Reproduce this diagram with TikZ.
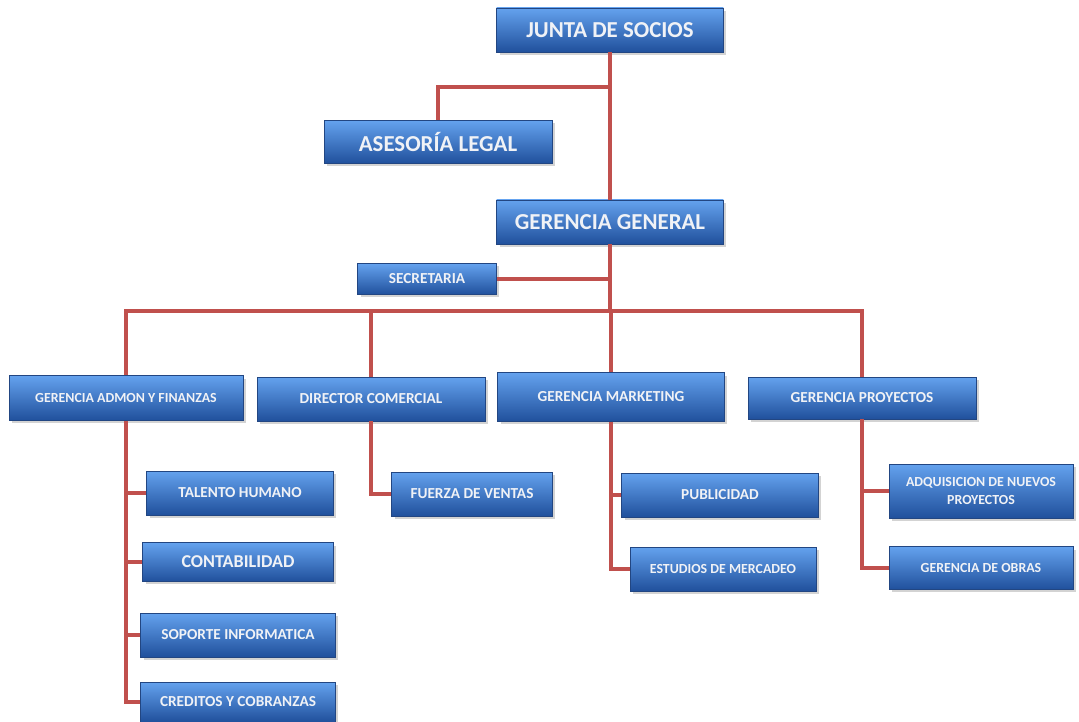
\documentclass[tikz,border=0pt]{standalone}
\usepackage{fontspec}
\setmainfont{Carlito}
\usetikzlibrary{positioning,shadows}

\definecolor{boxtop}{RGB}{100,162,238}
\definecolor{boxmid}{RGB}{50,118,214}
\definecolor{boxbot}{RGB}{32,80,156}
\definecolor{boxline}{RGB}{34,70,130}
\definecolor{boxtext}{RGB}{240,242,246}
\definecolor{linkred}{RGB}{192,80,77}

\begin{document}
\begin{tikzpicture}[x=0.02cm, y=-0.02cm,
    orgbox/.style={draw=boxline, line width=0.4pt, top color=boxtop, middle color=boxmid, bottom color=boxbot,
      drop shadow={opacity=0.35, shadow xshift=0.6mm, shadow yshift=-0.6mm},
      text=boxtext, align=center, inner sep=1pt, font=\bfseries},
    big/.style={font=\fontsize{13}{15}\selectfont\bfseries},
    mid/.style={font=\fontsize{8.7}{10.5}\selectfont\bfseries},
    small/.style={font=\fontsize{7.9}{9.8}\selectfont\bfseries},
    link/.style={draw=linkred, line width=2.1pt}]
      \useasboundingbox (0,0) rectangle (1079,722);

      \node[orgbox, big, minimum width=4.54cm, minimum height=0.88cm] (junta) at (610,30) {JUNTA DE SOCIOS};
      \node[orgbox, big, minimum width=4.56cm, minimum height=0.86cm] (ases) at (438,142) {ASESORÍA LEGAL};
      \node[orgbox, big, minimum width=4.54cm, minimum height=0.88cm] (gergen) at (610,222) {GERENCIA GENERAL};
      \node[orgbox, mid, minimum width=2.78cm, minimum height=0.62cm] (secre) at (427,279) {SECRETARIA};

      \node[orgbox, small, minimum width=4.68cm, minimum height=0.9cm] (admon) at (126,398) {GERENCIA ADMON Y FINANZAS};
      \node[orgbox, mid, minimum width=4.56cm, minimum height=0.88cm] (dc) at (371,399) {DIRECTOR COMERCIAL};
      \node[orgbox, mid, minimum width=4.54cm, minimum height=0.98cm] (mkt) at (611,397) {GERENCIA MARKETING};
      \node[orgbox, mid, minimum width=4.56cm, minimum height=0.84cm] (proy) at (862,398) {GERENCIA PROYECTOS};

      \node[orgbox, mid, minimum width=3.74cm, minimum height=0.88cm] (talento) at (240,493) {TALENTO HUMANO};
      \node[orgbox, font=\fontsize{10.3}{12}\selectfont\bfseries, minimum width=3.82cm, minimum height=0.78cm] (conta) at (238,562) {CONTABILIDAD};
      \node[orgbox, mid, minimum width=3.9cm, minimum height=0.88cm] (soporte) at (238,635) {SOPORTE INFORMATICA};
      \node[orgbox, mid, minimum width=3.9cm, minimum height=0.8cm] (credit) at (238,702) {CREDITOS Y COBRANZAS};

      \node[orgbox, mid, minimum width=3.22cm, minimum height=0.88cm] (fuerza) at (472,494) {FUERZA DE VENTAS};

      \node[orgbox, mid, minimum width=3.94cm, minimum height=0.88cm] (public) at (720,495) {PUBLICIDAD};
      \node[orgbox, small, minimum width=3.72cm, minimum height=0.88cm] (estud) at (723,569) {ESTUDIOS DE MERCADEO};

      \node[orgbox, small, minimum width=3.68cm, minimum height=1.08cm] (adqui) at (981,491) {ADQUISICION DE NUEVOS\\PROYECTOS};
      \node[orgbox, small, minimum width=3.68cm, minimum height=0.86cm] (obras) at (981,568) {GERENCIA DE OBRAS};

      \coordinate (asesj) at (610,87);
      \coordinate (bus) at (610,311);

      \draw[link] (junta.south) -- (gergen.north);
      \draw[link] (ases.north) |- (asesj);
      \draw[link] (gergen.south) -- (bus);
      \draw[link] (secre.east) -- (secre.east -| gergen.south);
      \draw[link] (admon.north) |- (bus) -| (proy.north);
      \draw[link] (dc.north) -- (dc.north |- bus);
      \draw[link] (mkt.north) -- (mkt.north |- bus);

      \draw[link] (admon.south) |- (talento.west);
      \draw[link] (admon.south) |- (conta.west);
      \draw[link] (admon.south) |- (soporte.west);
      \draw[link] (admon.south) |- (credit.west);
      \draw[link] (dc.south) |- (fuerza.west);
      \draw[link] (mkt.south) |- (public.west);
      \draw[link] (mkt.south) |- (estud.west);
      \draw[link] (proy.south) |- (adqui.west);
      \draw[link] (proy.south) |- (obras.west);
    \end{tikzpicture}
\end{document}
